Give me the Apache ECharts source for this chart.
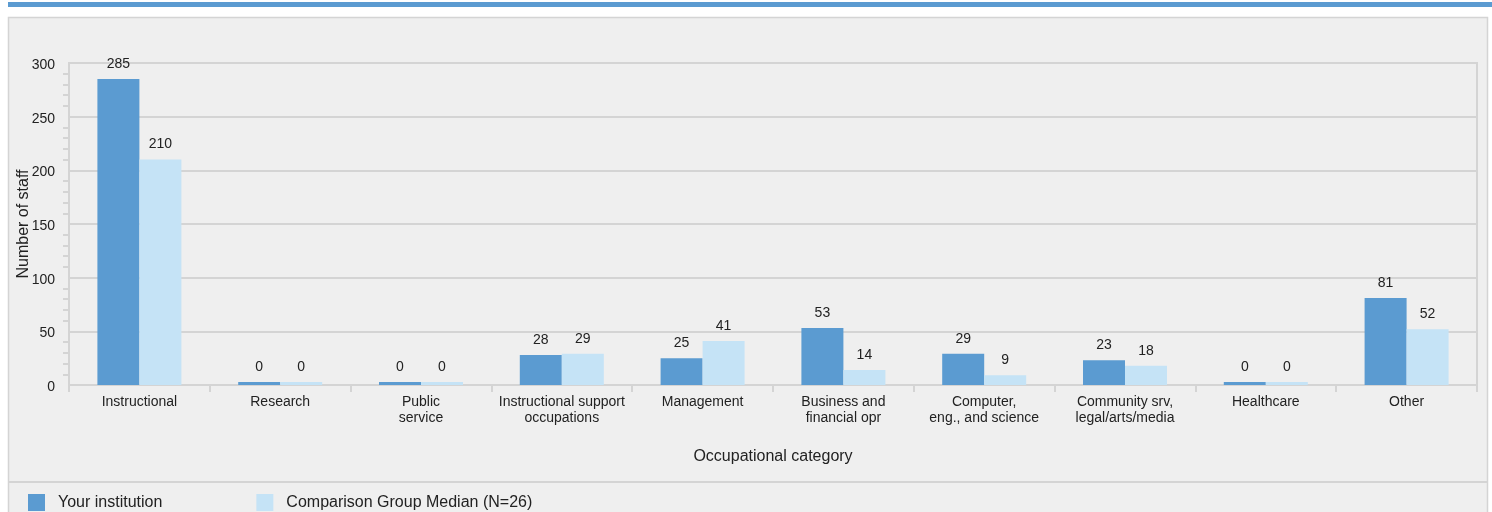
<!DOCTYPE html>
<html>
<head>
<meta charset="utf-8">
<script src="https://cdn.jsdelivr.net/npm/echarts@6/dist/echarts.min.js"></script>
<style>
html,body{margin:0;padding:0;background:#fff;}
#c{width:1492px;height:512px;}
</style>
</head>
<body>
<div id="c"></div>
<script>
const categories = ["Instructional","Research","Public\nservice","Instructional support\noccupations","Management","Business and\nfinancial opr","Computer,\neng., and science","Community srv,\nlegal/arts/media","Healthcare","Other"];
const yourInstitution = [285,0,0,28,25,53,29,23,0,81];
const comparisonMedian = [210,0,0,29,41,14,9,18,0,52];
const seriesNames = ["Your institution","Comparison Group Median (N=26)"];
const yTicks = {min:0,max:300,interval:50};

const FONT = 'Liberation Sans, Arial, sans-serif';
const chart = echarts.init(document.getElementById('c'), null, {renderer:'canvas'});
const lbl = {show:true,position:'top',distance:8,color:'#222',fontSize:14,fontFamily:FONT};
chart.setOption({
  animation:false,
  backgroundColor:'#ffffff',
  graphic:[
    {type:'rect',shape:{x:8,y:2,width:1484,height:5},style:{fill:'#5b9bd1'},silent:true,z:-10},
    {type:'rect',shape:{x:8.5,y:17.5,width:1479,height:500},style:{fill:'#efefef',stroke:'#d4d4d4',lineWidth:1.5},silent:true,z:-10},
    {type:'line',shape:{x1:9,y1:482,x2:1487,y2:482},style:{stroke:'#d4d4d4',lineWidth:2},silent:true,z:-9}
  ],
  legend:{
    left:28, top:494, padding:0, itemWidth:17, itemHeight:17, itemGap:94,
    icon:'rect',
    textStyle:{fontSize:16,color:'#222',fontFamily:FONT,padding:[0,0,0,8]},
    data:seriesNames
  },
  grid:{left:69,right:15,top:63,bottom:127,show:true,borderColor:'#d4d4d4',borderWidth:2,backgroundColor:'transparent'},
  xAxis:{
    type:'category', data:categories,
    name:'Occupational category', nameLocation:'middle', nameGap:64,
    nameTextStyle:{fontSize:16,color:'#222',fontFamily:FONT},
    axisLine:{lineStyle:{color:'#d4d4d4',width:2}},
    axisTick:{show:true,length:7,lineStyle:{color:'#d4d4d4',width:2}},
    axisLabel:{fontSize:14,color:'#222',fontFamily:FONT,margin:9,lineHeight:16,interval:0}
  },
  yAxis:{
    type:'value', min:yTicks.min, max:yTicks.max, interval:yTicks.interval,
    name:'Number of staff', nameLocation:'middle', nameGap:37, nameMoveOverlap:false,
    nameTextStyle:{fontSize:16,color:'#222',fontFamily:FONT},
    axisLine:{show:true,lineStyle:{color:'#d4d4d4',width:2}},
    axisTick:{show:false},
    minorTick:{show:true,splitNumber:5,length:6,lineStyle:{color:'#d4d4d4',width:2}},
    axisLabel:{fontSize:14,color:'#222',fontFamily:FONT,margin:14,
      formatter:function(v){return '{a|'+v+'}';},
      rich:{a:{fontSize:14,color:'#222',fontFamily:FONT,padding:[4,0,0,0]}}},
    splitLine:{lineStyle:{color:'#d4d4d4',width:2}}
  },
  series:[
    {name:seriesNames[0],type:'bar',data:yourInstitution,barWidth:42,barGap:'0%',barMinHeight:3,itemStyle:{color:'#5b9bd1'},label:lbl},
    {name:seriesNames[1],type:'bar',data:comparisonMedian,barWidth:42,barGap:'0%',barMinHeight:3,itemStyle:{color:'#c5e3f6'},label:lbl}
  ]
});
</script>
</body>
</html>
